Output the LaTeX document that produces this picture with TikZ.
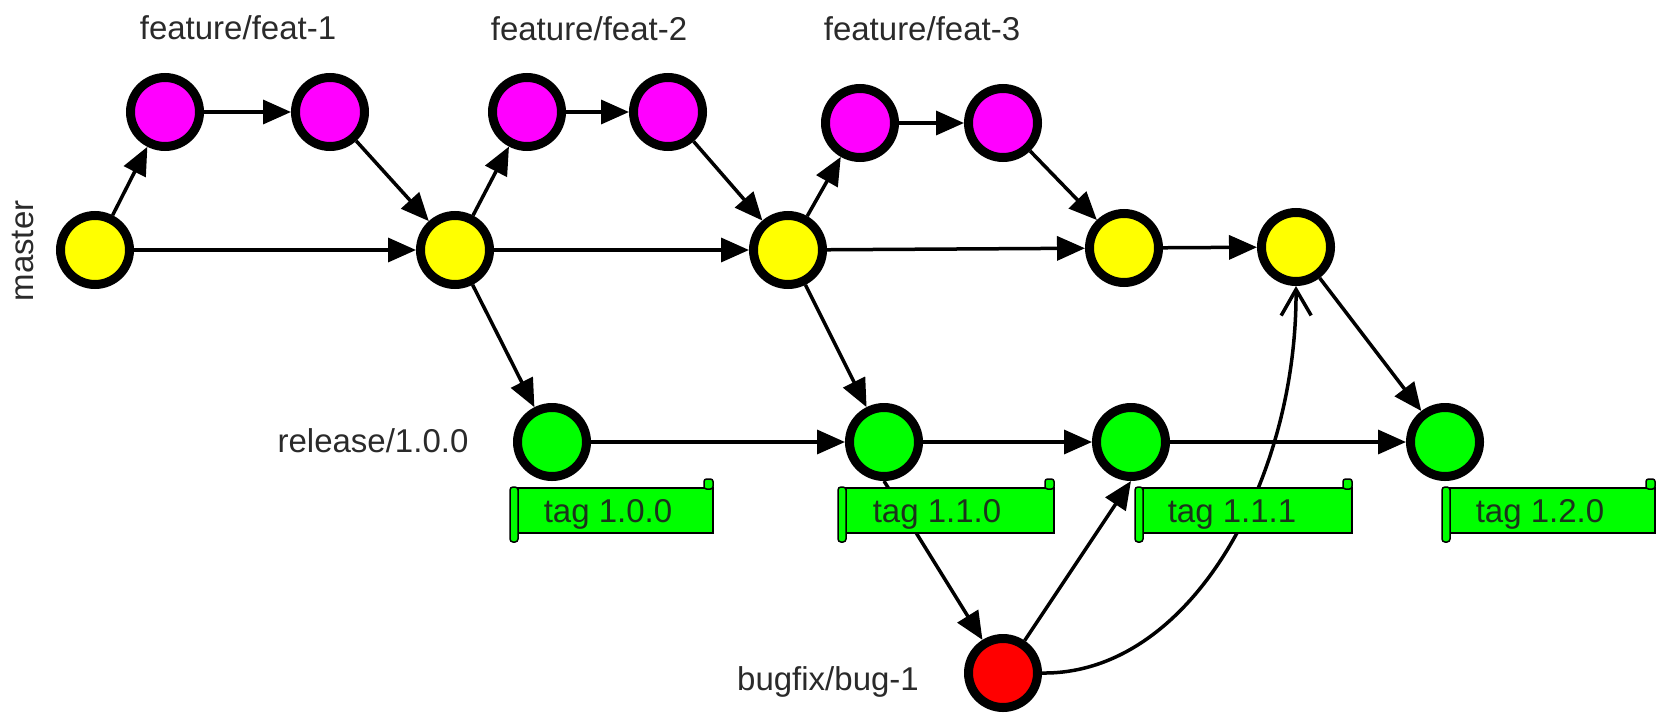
\documentclass[tikz,border=0pt]{standalone}
\usepackage{fontspec}
\setmainfont{Liberation Sans}
\usetikzlibrary{arrows.meta}
\pgfdeclarelayer{bg}
\pgfsetlayers{bg,main}
\definecolor{cyel}{HTML}{FFFF00}
\definecolor{cmag}{HTML}{FF00FF}
\definecolor{cgrn}{HTML}{00FF00}
\definecolor{cred}{HTML}{FF0000}
\definecolor{ctxt}{HTML}{2A2A2A}
\definecolor{ctagtxt}{HTML}{1C331C}
\newcommand\mytag[5]{%
  \draw[tagline] (#1+8,488) rectangle (#2,533);
  \draw[tagline,rounded corners=3pt] (#1,487) rectangle (#1+8,542);
  \draw[tagline,rounded corners=2.5pt] (#2-9,479) rectangle (#2,489);
  \node[tagtext] (#5) at (#3,522) {#4};
}
\begin{document}
\begin{tikzpicture}[x=1pt,y=-1pt,
  commit/.style={circle,draw=black,line width=9pt,minimum size=69pt,inner sep=0pt,outer sep=4.5pt},
  master/.style={commit,fill=cyel},
  feat/.style={commit,fill=cmag},
  rel/.style={commit,fill=cgrn},
  bugc/.style={commit,fill=cred},
  lbl/.style={anchor=base,inner sep=0pt,text=ctxt,font=\fontsize{33}{40}\selectfont},
  tagtext/.style={anchor=base,inner sep=0pt,text=ctagtxt,font=\fontsize{33}{40}\selectfont},
  tagline/.style={draw=black,line width=1.5pt,fill=cgrn},
  link/.style={line width=3.5pt,-{Triangle[length=28pt,width=24pt]}},
  curvelink/.style={line width=3.5pt,-{Straight Barb[length=26pt,width=30pt,line width=3.5pt]}}
]
\useasboundingbox (0,0) rectangle (1656,715);

% commits
\node[master] (m1) at (95,250) {};
\node[feat]   (f1a) at (165,112) {};
\node[feat]   (f1b) at (330,112) {};
\node[master] (m2) at (455,250) {};
\node[feat]   (f2a) at (527,112) {};
\node[feat]   (f2b) at (668,112) {};
\node[master] (m3) at (788,250) {};
\node[feat]   (f3a) at (860,123) {};
\node[feat]   (f3b) at (1003,123) {};
\node[master] (m4) at (1124,248) {};
\node[master] (m5) at (1296,247) {};
\node[rel]    (g1) at (552,442) {};
\node[rel]    (g2) at (884,442) {};
\node[rel]    (g3) at (1131,442) {};
\node[rel]    (g4) at (1445,442) {};
\node[bugc]   (bug) at (1003,673) {};

% labels
\node[lbl] (lf1) at (238,39) {feature/feat-1};
\node[lbl] (lf2) at (589,40) {feature/feat-2};
\node[lbl] (lf3) at (922,40) {feature/feat-3};
\node[lbl,rotate=90] (lmaster) at (33,251) {master};
\node[lbl] (lrel) at (373,452) {release/1.0.0};
\node[lbl] (lbug) at (828,690) {bugfix/bug-1};

\begin{pgfonlayer}{bg}
  \draw[link] (m1) -- (f1a);
  \draw[link] (f1a) -- (f1b);
  \draw[link] (f1b) -- (m2);
  \draw[link] (m1) -- (m2);
  \draw[link] (m2) -- (f2a);
  \draw[link] (f2a) -- (f2b);
  \draw[link] (f2b) -- (m3);
  \draw[link] (m2) -- (m3);
  \draw[link] (m3) -- (f3a);
  \draw[link] (f3a) -- (f3b);
  \draw[link] (f3b) -- (m4);
  \draw[link] (m3) -- (m4);
  \draw[link] (m4) -- (m5);
  \draw[link] (m2) -- (g1);
  \draw[link] (m3) -- (g2);
  \draw[link] (m5) -- (g4);
  \draw[link] (g1) -- (g2);
  \draw[link] (g2) -- (g3);
  \draw[link] (g3) -- (g4);
  \draw[link] (g2.south) -- (bug);
  \draw[link] (bug) -- (g3.south);
  \draw[curvelink] (bug.east) .. controls (1190,675) and (1297,480) .. (m5.south);
  % tags
  \mytag{510}{713}{608}{tag 1.0.0}{t1}
  \mytag{838}{1054}{937}{tag 1.1.0}{t2}
  \mytag{1135}{1352}{1232}{tag 1.1.1}{t3}
  \mytag{1442}{1655}{1540}{tag 1.2.0}{t4}
\end{pgfonlayer}
\end{tikzpicture}
\end{document}
